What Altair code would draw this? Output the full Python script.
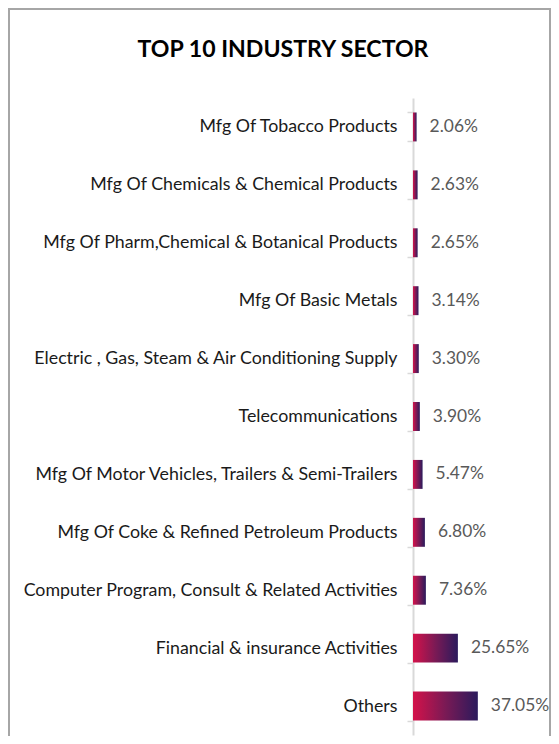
import altair as alt
import pandas as pd

sectors = [
    "Mfg Of Tobacco Products",
    "Mfg Of Chemicals & Chemical Products",
    "Mfg Of Pharm,Chemical & Botanical Products",
    "Mfg Of Basic Metals",
    "Electric , Gas, Steam & Air Conditioning Supply",
    "Telecommunications",
    "Mfg Of Motor Vehicles, Trailers & Semi-Trailers",
    "Mfg Of Coke & Refined Petroleum Products",
    "Computer Program, Consult & Related Activities",
    "Financial & insurance Activities",
    "Others",
]
shares = [2.06, 2.63, 2.65, 3.14, 3.30, 3.90, 5.47, 6.80, 7.36, 25.65, 37.05]
labels = [f"{v:.2f}%" for v in shares]
chart_title = "TOP 10 INDUSTRY SECTOR"

df = pd.DataFrame({"sector": sectors, "share": shares, "label": labels})
one = pd.DataFrame({"t": [chart_title]})

grad = alt.Gradient(
    gradient="linear",
    stops=[
        alt.GradientStop(color="#d4124a", offset=0),
        alt.GradientStop(color="#7a1a55", offset=0.5),
        alt.GradientStop(color="#2b1a5c", offset=1),
    ],
    x1=0, x2=1, y1=0, y2=0,
)

y_enc = alt.Y(
    "sector:N",
    sort=sectors,
    title=None,
    scale=alt.Scale(paddingInner=0.5, paddingOuter=0.25),
    axis=alt.Axis(
        labelFont="Lato",
        labelFontSize=17.8,
        labelColor="#1a1a1a",
        labelPadding=10,
        labelLimit=600,
        tickBand="extent",
        tickSize=6,
        tickColor="#d9d9d9",
        tickWidth=1.5,
        domainColor="#d9d9d9",
        domainWidth=2,
    ),
)
x_enc = alt.X("share:Q", scale=alt.Scale(domain=[0, 40]), axis=None)

bars = alt.Chart(df).mark_bar(color=grad).encode(y=y_enc, x=x_enc)
text = alt.Chart(df).mark_text(
    align="left", dx=13, font="Lato", fontSize=17.4, color="#595959"
).encode(y=alt.Y("sector:N", sort=sectors), x="share:Q", text="label:N")

frame = alt.Chart(one).mark_rect(
    filled=False, stroke="#a6a6a6", strokeWidth=2, clip=False
).encode(
    x=alt.value(-404), x2=alt.value(137), y=alt.value(-89), y2=alt.value(700)
)

title_mark = alt.Chart(one).mark_text(
    font="Lato", fontSize=23.1, fontWeight="bold", color="#000000",
    align="center", baseline="alphabetic", clip=False,
).encode(x=alt.value(-130), y=alt.value(-41), text="t:N")

chart = (
    alt.layer(frame, title_mark, bars, text)
    .properties(
        width=70,
        height=637,
        autosize=alt.AutoSizeParams(type="none"),
        padding={"left": 405, "top": 90, "right": 68, "bottom": 1},
    )
    .configure_view(stroke=None)
)

chart.save("out.html", embed_options={"renderer": "svg", "actions": False})
